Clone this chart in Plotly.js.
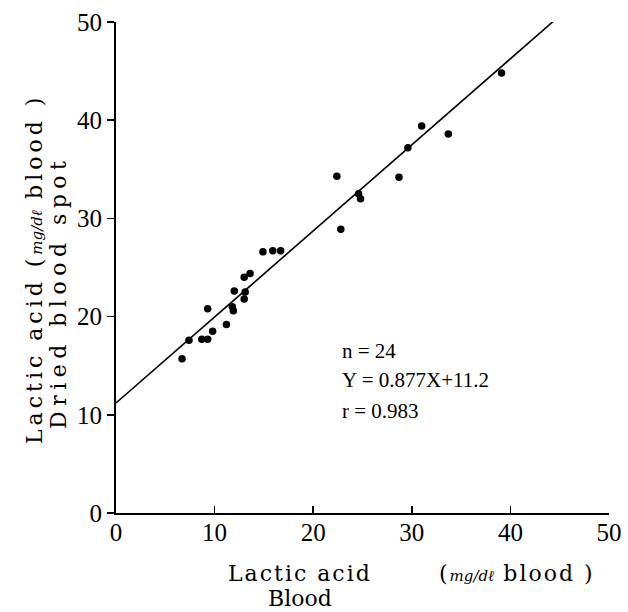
<!DOCTYPE html>
<html>
<head>
<meta charset="utf-8">
<script src="https://cdn.plot.ly/plotly-3.0.1.min.js"></script>
<style>html,body{margin:0;padding:0;background:#fff;}#chart{width:628px;height:612px;}</style>
</head>
<body>
<div id="chart"></div>
<script>
// Blood lactic acid (mg/dl) vs dried blood spot lactic acid (mg/dl)
var bloodX = [6.7, 7.4, 8.7, 9.3, 9.3, 9.8, 11.2, 11.8, 11.9, 12.0, 13.1, 13.0, 13.0, 13.6, 14.9, 15.9, 16.7,
              22.4, 22.8, 24.6, 24.8, 28.7, 29.6, 31.0, 33.7, 39.1];
var spotY  = [15.7, 17.6, 17.7, 17.7, 20.8, 18.5, 19.2, 21.0, 20.6, 22.6, 22.5, 21.8, 24.0, 24.4, 26.6, 26.7, 26.7,
              34.3, 28.9, 32.5, 32.0, 34.2, 37.2, 39.4, 38.6, 44.8];
// regression line Y = 0.877X + 11.2 (end points)
var lineX = [0, 44.5];
var lineY = [11.2, 50.2];
var tickVals = [0, 10, 20, 30, 40, 50];
var tickText = ['0', '10', '20', '30', '40', '50'];
var statsLines = ['n = 24', 'Y = 0.877X+11.2', 'r = 0.983'];

var L = 116, R = 19, T = 22, B = 99, W = 628, H = 612;
var pw = W - L - R, ph = H - T - B;
function px(x) { return (x - L) / pw; }
function py(y) { return (H - B - y) / ph; }

var serif = 'Liberation Serif, DejaVu Serif, serif';
var titleFont = {family: 'DejaVu Serif, Liberation Serif, serif', size: 22, color: '#000'};
var unit = '<span style="font-size:15px;letter-spacing:0px"><i>mg/dℓ</i></span>';

var traces = [
  {x: lineX, y: lineY, mode: 'lines', line: {color: '#000', width: 1.6}, hoverinfo: 'skip', showlegend: false},
  {x: bloodX, y: spotY, mode: 'markers', marker: {color: '#000', size: 7.5}, showlegend: false}
];

var annotations = [
  {xref: 'paper', yref: 'paper', x: px(34), y: py(269), xanchor: 'center', yanchor: 'middle', textangle: -90,
   showarrow: false, font: titleFont,
   text: '<span style="letter-spacing:4px">Lactic acid (</span>' + unit + '<span style="letter-spacing:4px"> blood )</span>'},
  {xref: 'paper', yref: 'paper', x: px(58), y: py(293), xanchor: 'center', yanchor: 'middle', textangle: -90,
   showarrow: false, font: titleFont,
   text: '<span style="letter-spacing:5.5px">Dried blood spot</span>'},
  {xref: 'paper', yref: 'paper', x: px(300), y: py(573), xanchor: 'center', yanchor: 'middle',
   showarrow: false, font: titleFont, text: '<span style="letter-spacing:2px">Lactic acid</span>'},
  {xref: 'paper', yref: 'paper', x: px(517), y: py(573), xanchor: 'center', yanchor: 'middle',
   showarrow: false, font: titleFont, text: '<span style="letter-spacing:2px">(</span>' + unit + '<span style="letter-spacing:2px"> blood )</span>'},
  {xref: 'paper', yref: 'paper', x: px(300), y: py(598), xanchor: 'center', yanchor: 'middle',
   showarrow: false, font: titleFont, text: 'Blood'}
];
var statY = [351, 380, 411];
for (var i = 0; i < statsLines.length; i++) {
  annotations.push({xref: 'paper', yref: 'paper', x: px(340), y: py(statY[i]), xanchor: 'left', yanchor: 'middle',
    showarrow: false, font: {family: serif, size: 21, color: '#000'}, text: statsLines[i]});
}

var layout = {
  width: W, height: H,
  margin: {l: L, r: R, t: T, b: B, pad: 0},
  paper_bgcolor: '#fff', plot_bgcolor: '#fff',
  font: {family: serif, color: '#000'},
  xaxis: {range: [0, 50], tickvals: tickVals, ticktext: tickText, ticks: 'inside', ticklen: 7, tickwidth: 1.5,
          tickcolor: '#000', showline: true, linecolor: '#000', linewidth: 2, showgrid: false, zeroline: false,
          ticklabelstandoff: -4,
          tickfont: {family: serif, size: 25, color: '#000'}, fixedrange: true},
  yaxis: {range: [0, 50], tickvals: tickVals, ticktext: tickText, ticks: 'outside', ticklen: 7, tickwidth: 1.5,
          tickcolor: '#000', showline: true, linecolor: '#000', linewidth: 2, showgrid: false, zeroline: false,
          tickfont: {family: serif, size: 25, color: '#000'}, fixedrange: true},
  annotations: annotations,
  showlegend: false
};

Plotly.newPlot('chart', traces, layout, {displayModeBar: false, staticPlot: true});
</script>
</body>
</html>
